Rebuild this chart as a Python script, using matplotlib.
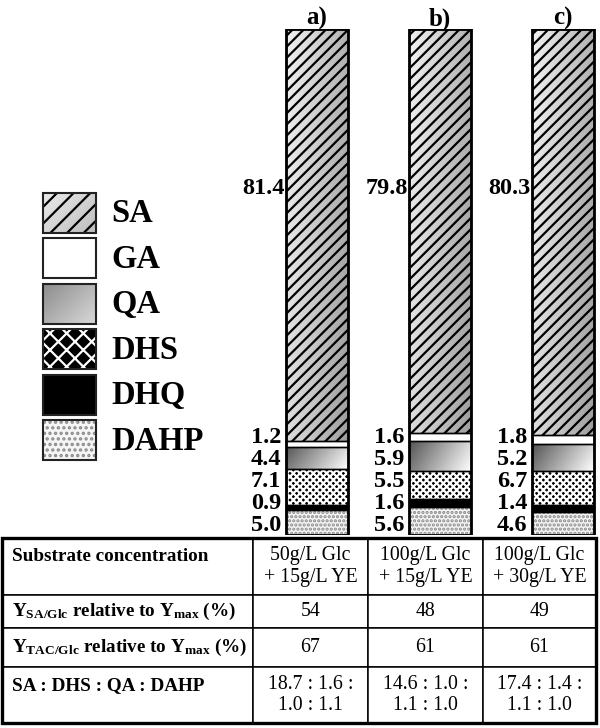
import numpy as np
import matplotlib
matplotlib.use('Agg')
import matplotlib.pyplot as plt
from matplotlib.patches import Rectangle
from matplotlib.table import Table

plt.rcParams['font.family'] = ['Liberation Serif', 'DejaVu Serif']
plt.rcParams['mathtext.fontset'] = 'custom'
plt.rcParams['mathtext.rm'] = 'Liberation Serif'
plt.rcParams['mathtext.bf'] = 'Liberation Serif:bold'
plt.rcParams['mathtext.it'] = 'Liberation Serif:italic'
plt.rcParams['hatch.linewidth'] = 1.6

# data
conditions = ['a)', 'b)', 'c)']
dahp = [5.0, 5.6, 4.6]
dhq = [0.9, 1.6, 1.4]
dhs = [7.1, 5.5, 6.7]
qa = [4.4, 5.9, 5.2]
ga = [1.2, 1.6, 1.8]
sa = [81.4, 79.8, 80.3]

row_labels = ['Substrate concentration\n',
              r'$\mathbf{Y_{SA/Glc}}$ relative to $\mathbf{Y_{max}}$ (%)',
              r'$\mathbf{Y_{TAC/Glc}}$ relative to $\mathbf{Y_{max}}$ (%)',
              'SA : DHS : QA : DAHP\n']
substrate = ['50g/L Glc\n+ 15g/L YE', '100g/L Glc\n+ 15g/L YE', '100g/L Glc\n+ 30g/L YE']
y_sa = [54, 48, 49]
y_tac = [67, 61, 61]
ratios = ['18.7 : 1.6 :\n1.0 : 1.1', '14.6 : 1.0 :\n1.1 : 1.0', '17.4 : 1.4 :\n1.1 : 1.0']

# look of each component: face, hatch (bar, legend), hatch colour, gradient
styles = {
    'SA':   dict(face='none', hatch=('///', '//'), hc='black', grad=(0.95, 0.62)),
    'GA':   dict(face='white', hatch=(None, None), hc='black', grad=None),
    'QA':   dict(face='none', hatch=(None, None), hc='black', grad=(0.33, 1.0)),
    'DHS':  dict(face='black', hatch=('xxxxx', 'xx'), hc='white', grad=None),
    'DHQ':  dict(face='black', hatch=(None, None), hc='black', grad=None),
    'DAHP': dict(face='#f5f5f5', hatch=('....', '...'), hc='#8a8a8a', grad=None),
}
stack = [('DAHP', dahp), ('DHQ', dhq), ('DHS', dhs), ('QA', qa), ('GA', ga), ('SA', sa)]


def gradient_fill(ax, x0, x1, yb, yt, lo, hi, wy=0.3, zorder=1):
    g = np.linspace(0, 1, 64)
    X, Y = np.meshgrid(g, g)
    t = (X + wy * (1 - Y)) / (1 + wy)
    G = lo + (hi - lo) * t
    ax.imshow(G, extent=(x0, x1, yb, yt), origin='lower', cmap='gray', vmin=0, vmax=1,
              aspect='auto', interpolation='bilinear', zorder=zorder)


fig = plt.figure(figsize=(6, 7.28), dpi=100)

# stacked bars
ax = fig.add_axes([0.4, 193 / 728, 0.6, 506 / 728])
x = np.arange(len(conditions))
width = 0.504
bottom = np.zeros(len(conditions))
for name, vals in stack:
    st = styles[name]
    bars = ax.bar(x, vals, width, bottom=bottom, color=st['face'], edgecolor=st['hc'],
                  linewidth=0, hatch=st['hatch'][0], zorder=2)
    if st['grad'] is not None:
        for r in bars:
            gradient_fill(ax, r.get_x(), r.get_x() + r.get_width(), r.get_y(),
                          r.get_y() + r.get_height(), *st['grad'])
    ax.bar(x, vals, width, bottom=bottom, fill=False, edgecolor='black', linewidth=1, zorder=3)
    bottom += np.array(vals)
ax.bar(x, bottom, width, fill=False, edgecolor='black', linewidth=2, zorder=4)

for i in range(len(conditions)):
    left = x[i] - width / 2
    small = [dahp[i], dhq[i], dhs[i], qa[i], ga[i]]
    for j, v in enumerate(small):
        ax.text(left - 0.04, 1.8 + 4.35 * j, f'{v:.1f}', ha='right', va='center',
                fontsize=17.5, fontweight='bold')
    ax.text(left - 0.012, 68.5, f'{sa[i]:.1f}', ha='right', va='center',
            fontsize=17.5, fontweight='bold')
    ax.text(x[i], 102.0, conditions[i], ha='center', va='center', fontsize=18,
            fontweight='bold', clip_on=False)

ax.set_xlim(-0.626, 2.301)
ax.set_ylim(0, 100)
ax.axis('off')

# legend (pixel layout)
lg = fig.add_axes([0, 0, 1, 1])
lg.axis('off')
for k, name in enumerate(['SA', 'GA', 'QA', 'DHS', 'DHQ', 'DAHP']):
    st = styles[name]
    top = 193 + 45.4 * k
    lg.add_patch(Rectangle((43, top), 53, 40, facecolor=st['face'], edgecolor=st['hc'],
                           linewidth=0, hatch=st['hatch'][1], zorder=2))
    if st['grad'] is not None:
        if name == 'QA':
            lo, hi = 0.55, 0.85
        else:
            lo, hi = 0.92, 0.74
        gradient_fill(lg, 43, 96, top + 40, top, lo, hi, wy=0.8)
    lg.add_patch(Rectangle((43, top), 53, 40, fill=False, edgecolor='#222222',
                           linewidth=1.5, zorder=3))
    lg.text(111, top + 21, name, ha='left', va='center', fontsize=23.5, fontweight='bold')
lg.set_xlim(0, 600)
lg.set_ylim(728, 0)

# table
tab_ax = fig.add_axes([2 / 600, 5 / 728, 594 / 600, 185 / 728])
tab_ax.axis('off')
col_w = np.array([251, 115, 115, 113]) / 594
row_h = np.array([57, 33, 39, 56]) / 185
cells = [[row_labels[0]] + substrate,
         [row_labels[1]] + [str(v) for v in y_sa],
         [row_labels[2]] + [str(v) for v in y_tac],
         [row_labels[3]] + ratios]
tbl = Table(tab_ax, bbox=[0, 0, 1, 1])
for r, row in enumerate(cells):
    for c, txt in enumerate(row):
        cell = tbl.add_cell(r, c, width=col_w[c], height=row_h[r], text=txt,
                            loc='left' if c == 0 else 'center',
                            edgecolor='black', facecolor='white')
        cell.set_linewidth(1.1)
        cell.PAD = 0.04
        if c == 0:
            cell.get_text().set_fontweight('bold')
            cell.get_text().set_fontsize(13.8)
        else:
            cell.get_text().set_fontsize(14.3)
tbl.auto_set_font_size(False)
tab_ax.add_table(tbl)
tab_ax.add_patch(Rectangle((0, 0), 1, 1, transform=tab_ax.transAxes, fill=False,
                           edgecolor='black', linewidth=2.4, zorder=5, clip_on=False))

fig.savefig('out.png', dpi=100)
